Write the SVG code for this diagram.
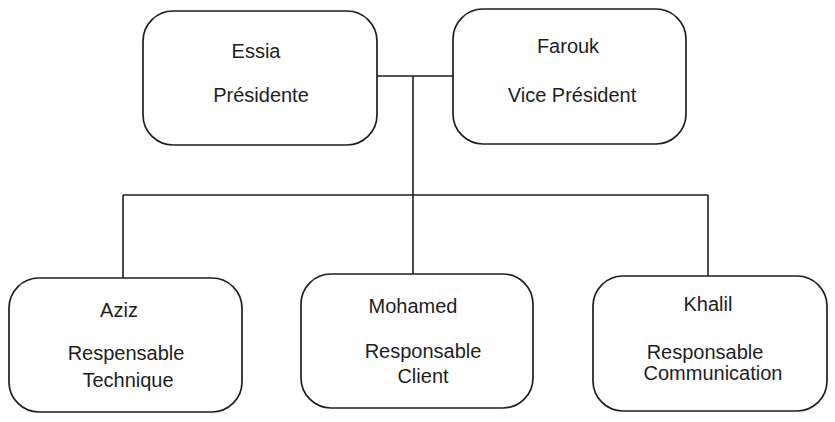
<svg xmlns="http://www.w3.org/2000/svg" width="835" height="422" viewBox="0 0 835 422">
<style>
.box{fill:#ffffff;stroke:#1e1e1e;stroke-width:1.7}
.conn{fill:none;stroke:#1e1e1e;stroke-width:1.6}
text{font-family:"Liberation Sans",Arial,sans-serif;font-size:20px;fill:#1e1e1e;text-anchor:middle}
</style>
<rect x="0" y="0" width="835" height="422" fill="#ffffff"/>
<g id="connectors">
<path class="conn" d="M377 76 H453"/>
<path class="conn" d="M413 76 V274"/>
<path class="conn" d="M123 195 H708"/>
<path class="conn" d="M123 195 V278"/>
<path class="conn" d="M708 195 V277"/>
</g>
<g id="essia">
<rect class="box" x="143" y="11" width="234" height="134" rx="30"/>
<text x="256" y="58">Essia</text>
<text x="261" y="102">Présidente</text>
</g>
<g id="farouk">
<rect class="box" x="453" y="9" width="233" height="135" rx="30"/>
<text x="568" y="53">Farouk</text>
<text x="572" y="102">Vice Président</text>
</g>
<g id="aziz">
<rect class="box" x="9" y="278" width="233" height="134" rx="30"/>
<text x="119" y="317">Aziz</text>
<text x="126" y="360">Respensable</text>
<text x="128" y="387">Technique</text>
</g>
<g id="mohamed">
<rect class="box" x="301" y="274" width="232" height="134" rx="30"/>
<text x="413" y="313">Mohamed</text>
<text x="423" y="358">Responsable</text>
<text x="423" y="383">Client</text>
</g>
<g id="khalil">
<rect class="box" x="593" y="276" width="234" height="135" rx="30"/>
<text x="708" y="311">Khalil</text>
<text x="705" y="359">Responsable</text>
<text x="713" y="380">Communication</text>
</g>
</svg>
